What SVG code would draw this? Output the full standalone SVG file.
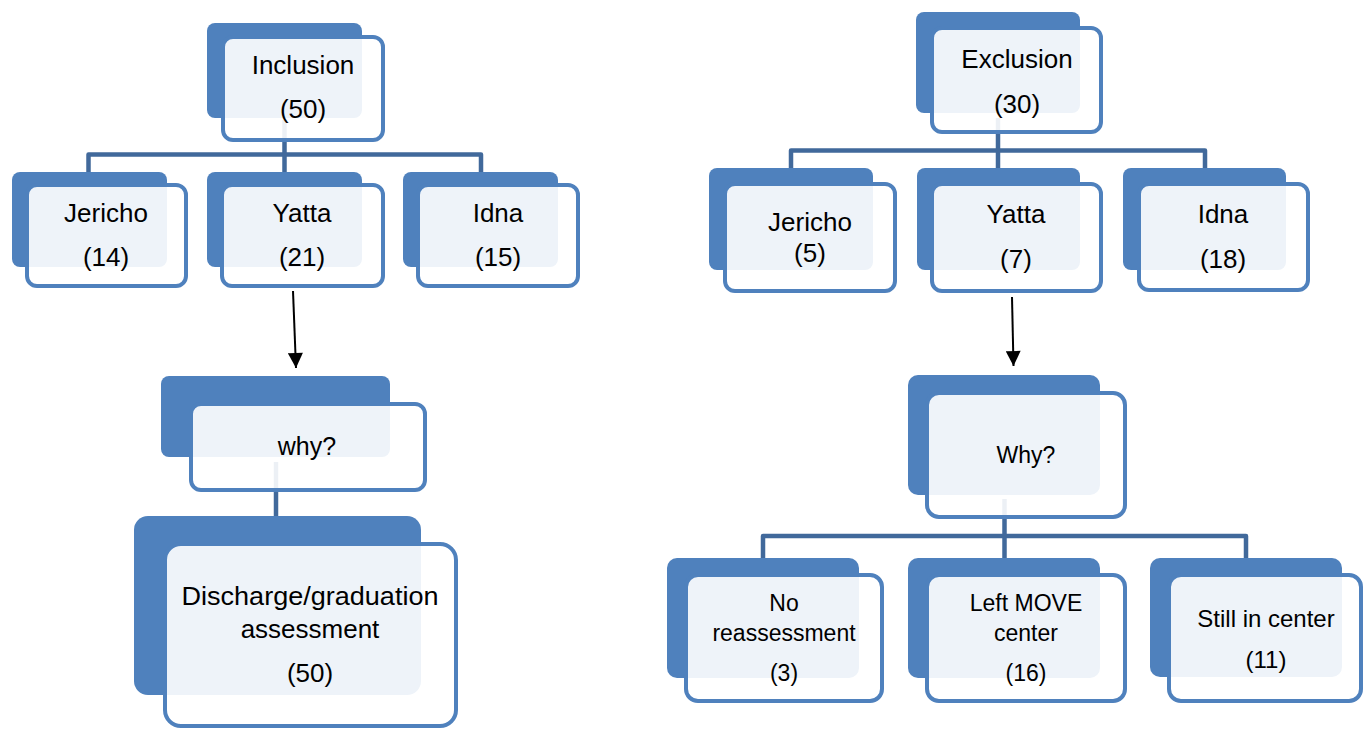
<svg xmlns="http://www.w3.org/2000/svg" width="1364" height="729" viewBox="0 0 1364 729">
<style>
.bk{fill:#4f81bd}
.fr{fill:#ffffff;fill-opacity:0.9;stroke:#4f81bd;stroke-width:4}
.cn{fill:none;stroke:#41699b;stroke-width:4.5;stroke-linejoin:round}
.ar{fill:none;stroke:#000;stroke-width:2}
text{font-family:"Liberation Sans",Arial,sans-serif;fill:#000;text-anchor:middle}
.t26{font-size:26px}
.t25{font-size:25px}
.t23{font-size:23px}
.t24{font-size:24px}
</style>
<defs>
<marker id="ah" viewBox="0 0 16 16" refX="16" refY="8" markerWidth="16" markerHeight="15" orient="auto" markerUnits="userSpaceOnUse">
<path d="M0,0 L16,8 L0,16 z" fill="#000"/>
</marker>
</defs>
<rect width="1364" height="729" fill="#fff"/>
<g id="connectors">
<path class="cn" d="M284.5,120 V154.5 M88.5,172 V154.5 H481 V172 M284.5,154.5 V172"/>
<path class="cn" d="M276,462 V516"/>
<path class="cn" d="M998,118 V150.5 M791,168 V150.5 H1205 V168 M998,150.5 V168"/>
<path class="cn" d="M1004.5,499 V536 M763,558 V536 H1246 V558 M1004.5,536 V558"/>
<path class="ar" d="M293,291 L296,368" marker-end="url(#ah)"/>
<path class="ar" d="M1012,297 L1013.5,366" marker-end="url(#ah)"/>
</g>
<g id="inclusion">
<rect class="bk" x="207" y="23" width="155" height="95" rx="8"/>
<rect class="fr" x="223" y="37" width="160" height="103" rx="10"/>
<text class="t26" x="303" y="74">Inclusion</text>
<text class="t26" x="303" y="118">(50)</text>
</g>
<g id="incl-jericho">
<rect class="bk" x="12" y="172" width="155" height="95" rx="8"/>
<rect class="fr" x="27" y="185" width="159" height="101" rx="10"/>
<text class="t26" x="106" y="222">Jericho</text>
<text class="t26" x="106" y="266">(14)</text>
</g>
<g id="incl-yatta">
<rect class="bk" x="207" y="172" width="155" height="95" rx="8"/>
<rect class="fr" x="222" y="185" width="161" height="101" rx="10"/>
<text class="t26" x="302" y="222">Yatta</text>
<text class="t26" x="302" y="266">(21)</text>
</g>
<g id="incl-idna">
<rect class="bk" x="403" y="172" width="155" height="95" rx="8"/>
<rect class="fr" x="418" y="185" width="160" height="101" rx="10"/>
<text class="t26" x="498" y="222">Idna</text>
<text class="t26" x="498" y="266">(15)</text>
</g>
<g id="incl-why">
<rect class="bk" x="161" y="376" width="229" height="81" rx="8"/>
<rect class="fr" x="191" y="404" width="234" height="86" rx="10"/>
<text class="t25" x="307" y="455">why?</text>
</g>
<g id="discharge">
<rect class="bk" x="134" y="516" width="287" height="179" rx="14"/>
<rect class="fr" x="165" y="544" width="291" height="182" rx="16"/>
<text class="t26" x="310" y="605" textLength="257" lengthAdjust="spacingAndGlyphs">Discharge/graduation</text>
<text class="t26" x="310" y="638">assessment</text>
<text class="t26" x="310" y="682">(50)</text>
</g>
<g id="exclusion">
<rect class="bk" x="916" y="12" width="164" height="101" rx="8"/>
<rect class="fr" x="932" y="28" width="169" height="104" rx="10"/>
<text class="t26" x="1017" y="68">Exclusion</text>
<text class="t26" x="1017" y="113">(30)</text>
</g>
<g id="excl-jericho">
<rect class="bk" x="709" y="168" width="164" height="102" rx="8"/>
<rect class="fr" x="725" y="184" width="170" height="107" rx="10"/>
<text class="t26" x="810" y="231">Jericho</text>
<text class="t26" x="810" y="262">(5)</text>
</g>
<g id="excl-yatta">
<rect class="bk" x="917" y="168" width="163" height="102" rx="8"/>
<rect class="fr" x="932" y="184" width="169" height="107" rx="10"/>
<text class="t26" x="1016" y="223">Yatta</text>
<text class="t26" x="1016" y="268">(7)</text>
</g>
<g id="excl-idna">
<rect class="bk" x="1123" y="168" width="163" height="102" rx="8"/>
<rect class="fr" x="1139" y="184" width="169" height="106" rx="10"/>
<text class="t26" x="1223" y="223">Idna</text>
<text class="t26" x="1223" y="268">(18)</text>
</g>
<g id="excl-why">
<rect class="bk" x="908" y="375" width="192" height="120" rx="10"/>
<rect class="fr" x="927" y="393" width="198" height="124" rx="12"/>
<text class="t23" x="1026" y="463">Why?</text>
</g>
<g id="no-reassessment">
<rect class="bk" x="667" y="558" width="192" height="120" rx="10"/>
<rect class="fr" x="686" y="575" width="196" height="126" rx="12"/>
<text class="t23" x="784" y="611">No</text>
<text class="t23" x="784" y="641">reassessment</text>
<text class="t23" x="784" y="681">(3)</text>
</g>
<g id="left-move">
<rect class="bk" x="908" y="558" width="192" height="120" rx="10"/>
<rect class="fr" x="927" y="575" width="198" height="126" rx="12"/>
<text class="t23" x="1026" y="611">Left MOVE</text>
<text class="t23" x="1026" y="641">center</text>
<text class="t23" x="1026" y="681">(16)</text>
</g>
<g id="still-in-center">
<rect class="bk" x="1150" y="558" width="192" height="119" rx="10"/>
<rect class="fr" x="1169" y="575" width="192" height="126" rx="12"/>
<text class="t24" x="1266" y="627">Still in center</text>
<text class="t24" x="1266" y="668">(11)</text>
</g>
</svg>
